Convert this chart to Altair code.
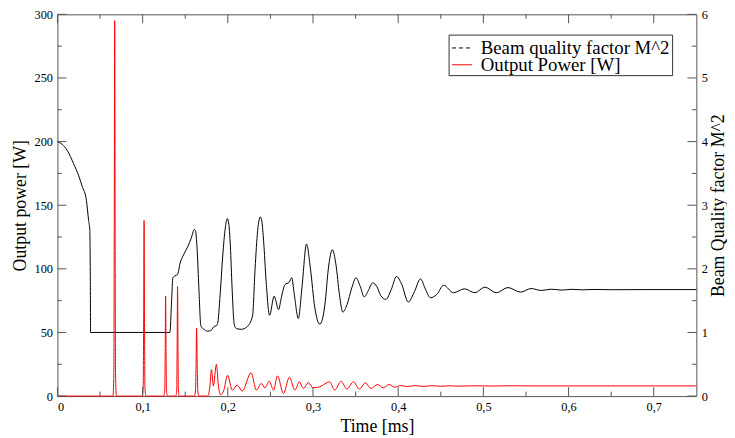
import altair as alt
import pandas as pd

# ---------------- data ----------------
t_m2 = [0.000, 0.0056, 0.0114, 0.019, 0.025, 0.029, 0.034, 0.0366, 0.038, 0.0386, 0.0389,
        0.132, 0.134, 0.1355, 0.138, 0.141, 0.144, 0.148, 0.153, 0.157, 0.1607, 0.162,
        0.164, 0.166, 0.1684, 0.172, 0.176, 0.180, 0.1847, 0.186, 0.188, 0.191, 0.194,
        0.197, 0.1993, 0.201, 0.203, 0.205, 0.2076, 0.2102, 0.216, 0.2227, 0.229, 0.232,
        0.235, 0.2381, 0.240, 0.242, 0.245, 0.249, 0.2544, 0.2595, 0.263, 0.267, 0.272,
        0.275, 0.278, 0.2828, 0.287, 0.2924, 0.297, 0.302, 0.308, 0.314, 0.318, 0.3227,
        0.327, 0.331, 0.335, 0.340, 0.3455, 0.3506, 0.355, 0.3602, 0.365, 0.370, 0.375,
        0.3795, 0.3855, 0.392, 0.398, 0.404, 0.4119, 0.419, 0.4262, 0.432, 0.4378, 0.4455,
        0.4533, 0.4649, 0.4777, 0.490, 0.5017, 0.5153, 0.5288, 0.5436, 0.556, 0.568, 0.580,
        0.592, 0.604, 0.616, 0.630, 0.650, 0.700, 0.750]
m2 = [4.00, 3.956, 3.864, 3.65, 3.46, 3.30, 3.074, 2.76, 2.60, 1.8, 1.00,
      1.00, 1.5, 1.86, 1.89, 1.91, 2.09, 2.22, 2.35, 2.48, 2.62, 2.60,
      2.30, 1.70, 1.10, 1.05, 1.02, 1.03, 1.10, 1.10, 1.14, 1.60, 2.20,
      2.64, 2.79, 2.72, 2.36, 1.70, 1.12, 1.06, 1.05, 1.09, 1.26, 2.0,
      2.6, 2.816, 2.74, 2.44, 1.80, 1.27, 1.57, 1.36, 1.56, 1.75, 1.79,
      1.86, 1.60, 1.22, 1.70, 2.39, 2.00, 1.40, 1.13, 1.44, 2.00, 2.30,
      2.06, 1.60, 1.32, 1.44, 1.70, 1.86, 1.74, 1.56, 1.66, 1.78, 1.72,
      1.58, 1.52, 1.68, 1.88, 1.76, 1.478, 1.64, 1.84, 1.68, 1.546, 1.60,
      1.742, 1.624, 1.686, 1.624, 1.712, 1.624, 1.706, 1.634, 1.69, 1.66, 1.68,
      1.666, 1.678, 1.67, 1.676, 1.672, 1.674, 1.674]

t_p = [0.000, 0.0652, 0.0662, 0.0667, 0.0672, 0.0677, 0.0682, 0.0692,
       0.0997, 0.1007, 0.1012, 0.1017, 0.1022, 0.1027, 0.1037,
       0.1250, 0.1260, 0.1265, 0.1270, 0.1275, 0.1280, 0.1290,
       0.1390, 0.1400, 0.1405, 0.1410, 0.1415, 0.1420, 0.1430,
       0.1608, 0.1620, 0.1627, 0.1634, 0.1641, 0.1648, 0.1660,
       0.1765, 0.1790, 0.1808, 0.1830, 0.1866, 0.1890, 0.1916, 0.1950, 0.1998,
       0.2052, 0.2110, 0.2169, 0.2273, 0.2335, 0.2393, 0.2435, 0.2486, 0.2537,
       0.2583, 0.2653, 0.2723, 0.2788, 0.2840, 0.2886, 0.2944, 0.3000, 0.3080,
       0.3196, 0.3254, 0.3330, 0.3397, 0.3475, 0.3544, 0.3614, 0.3680, 0.3758,
       0.3823, 0.3893, 0.3960, 0.4030, 0.4100, 0.4200, 0.4300, 0.4400, 0.4500,
       0.4600, 0.4700, 0.4900, 0.5100, 0.5300, 0.5600, 0.7500]
power = [0, 0, 18, 133, 295, 133, 18, 0,
         0, 8, 62, 138, 62, 8, 0,
         0, 5, 35, 78.5, 35, 5, 0,
         0, 5, 39, 86, 39, 5, 0,
         0, 4, 24, 53.4, 24, 4, 0,
         0, 8, 20.8, 8, 24.9, 8, 1, 4, 16.3,
         4.7, 8.6, 3.9, 18.4, 4.7, 9.9, 6.5, 11.7, 4.7,
         15.9, 2.0, 14.8, 4.7, 11.2, 6.0, 10.7, 6.5, 7.3,
         11.2, 4.7, 11.7, 5.5, 11.2, 5.5, 10.4, 6.0, 9.1,
         6.5, 9.1, 7.0, 8.3, 7.5, 8.2, 7.6, 8.2, 7.7,
         8.1, 7.8, 8.1, 7.9, 8.1, 8.0, 8.0]

x_labels = [0, 0.1, 0.2, 0.3, 0.4, 0.5, 0.6, 0.7]
x_minor = [0.05, 0.15, 0.25, 0.35, 0.45, 0.55, 0.65]
left_labels = [0, 50, 100, 150, 200, 250, 300]
left_minor = [25, 75, 125, 175, 225, 275]
right_labels = [0, 1, 2, 3, 4, 5, 6]
right_minor = [0.5, 1.5, 2.5, 3.5, 4.5, 5.5]
legend_labels = ["Beam quality factor M^2", "Output Power [W]"]

# ---------------- chart ----------------
W, H = 646, 386
FONT = "Liberation Serif"
FRAME = "#555555"

xscale = alt.Scale(domain=[0, 0.75], nice=False, zero=False)
yl_scale = alt.Scale(domain=[0, 300], nice=False)
yr_scale = alt.Scale(domain=[0, 6], nice=False)

x_axis = alt.Axis(
    values=x_labels, title="Time [ms]", ticks=False, domain=False, grid=False,
    labelExpr="datum.value == 0 ? '0' : replace(format(datum.value, '.1f'), '.', ',')",
    labelPadding=5, titlePadding=4,
)

df_m2 = pd.DataFrame({"t": t_m2, "m2": m2})
df_p = pd.DataFrame({"t": t_p, "p": power})

m2_line = alt.Chart(df_m2).mark_line(
    color="black", strokeWidth=1, interpolate="monotone"
).encode(
    x=alt.X("t:Q", scale=xscale, axis=x_axis),
    y=alt.Y("m2:Q", scale=yr_scale,
            axis=alt.Axis(orient="right", values=right_labels, title="Beam Quality factor M^2",
                          ticks=False, domain=False, grid=False, labelPadding=5,
                          titleAngle=-90, titleBaseline="alphabetic", titleAlign="center",
                          titleX=27, titleY=H / 2)),
)

p_line = alt.Chart(df_p).mark_line(
    color="#ff0000", strokeWidth=1, interpolate="monotone"
).encode(
    x=alt.X("t:Q", scale=xscale, axis=x_axis),
    y=alt.Y("p:Q", scale=yl_scale,
            axis=alt.Axis(orient="left", values=left_labels, title="Output power [W]",
                          ticks=False, domain=False, grid=False, labelPadding=5, titlePadding=5)),
)

def xticks(vals, length):
    d = pd.DataFrame({"v": vals})
    bottom = alt.Chart(d).mark_rule(color=FRAME, strokeWidth=1).encode(
        x=alt.X("v:Q", scale=xscale, axis=x_axis), y=alt.value(H), y2=alt.value(H - length))
    top = alt.Chart(d).mark_rule(color=FRAME, strokeWidth=1).encode(
        x=alt.X("v:Q", scale=xscale, axis=x_axis), y=alt.value(0), y2=alt.value(length))
    return [bottom, top]

def lticks(vals, length):
    d = pd.DataFrame({"v": vals})
    return alt.Chart(d).mark_rule(color=FRAME, strokeWidth=1).encode(
        y=alt.Y("v:Q", scale=yl_scale, axis=None), x=alt.value(0), x2=alt.value(length))

def rticks(vals, length):
    d = pd.DataFrame({"v": vals})
    return alt.Chart(d).mark_rule(color=FRAME, strokeWidth=1).encode(
        y=alt.Y("v:Q", scale=yr_scale, axis=None), x=alt.value(W), x2=alt.value(W - length))

tick_layers = (xticks(x_labels, 9) + xticks(x_minor, 4.5)
               + [lticks(left_labels, 9), lticks(left_minor, 4.5),
                  rticks(right_labels, 9), rticks(right_minor, 4.5)])

# legend box
one = pd.DataFrame({"label": legend_labels[:1]})
two = pd.DataFrame({"label": legend_labels[1:]})
box = alt.Chart(one).mark_rect(fill="white", stroke="#333333", strokeWidth=1).encode(
    x=alt.value(396), x2=alt.value(622), y=alt.value(21), y2=alt.value(62))
leg_dash = alt.Chart(one).mark_rule(color="black", strokeWidth=1, strokeDash=[4, 3]).encode(
    x=alt.value(399), x2=alt.value(419), y=alt.value(34), y2=alt.value(34))
leg_red = alt.Chart(two).mark_rule(color="#ff0000", strokeWidth=1).encode(
    x=alt.value(399), x2=alt.value(419), y=alt.value(51), y2=alt.value(51))
leg_t1 = alt.Chart(one).mark_text(align="left", baseline="middle", font=FONT, fontSize=19,
                                  color="black").encode(
    x=alt.value(428), y=alt.value(34), text="label:N")
leg_t2 = alt.Chart(two).mark_text(align="left", baseline="middle", font=FONT, fontSize=19,
                                  color="black").encode(
    x=alt.value(428), y=alt.value(51), text="label:N")

chart = alt.layer(
    m2_line, p_line, *tick_layers, box, leg_dash, leg_red, leg_t1, leg_t2
).resolve_scale(y="independent").properties(
    width=W, height=H,
    padding={"left": 50, "top": 4, "right": 31, "bottom": 42},
    autosize=alt.AutoSizeParams(type="none"),
    background="white",
).configure_view(
    stroke=FRAME, strokeWidth=1
).configure_axis(
    labelFont=FONT, titleFont=FONT, labelFontSize=12.5, titleFontSize=18,
    titleFontWeight="normal", labelColor="black", titleColor="black",
)

chart.save("out.html", embed_options={"renderer": "svg", "actions": False})
